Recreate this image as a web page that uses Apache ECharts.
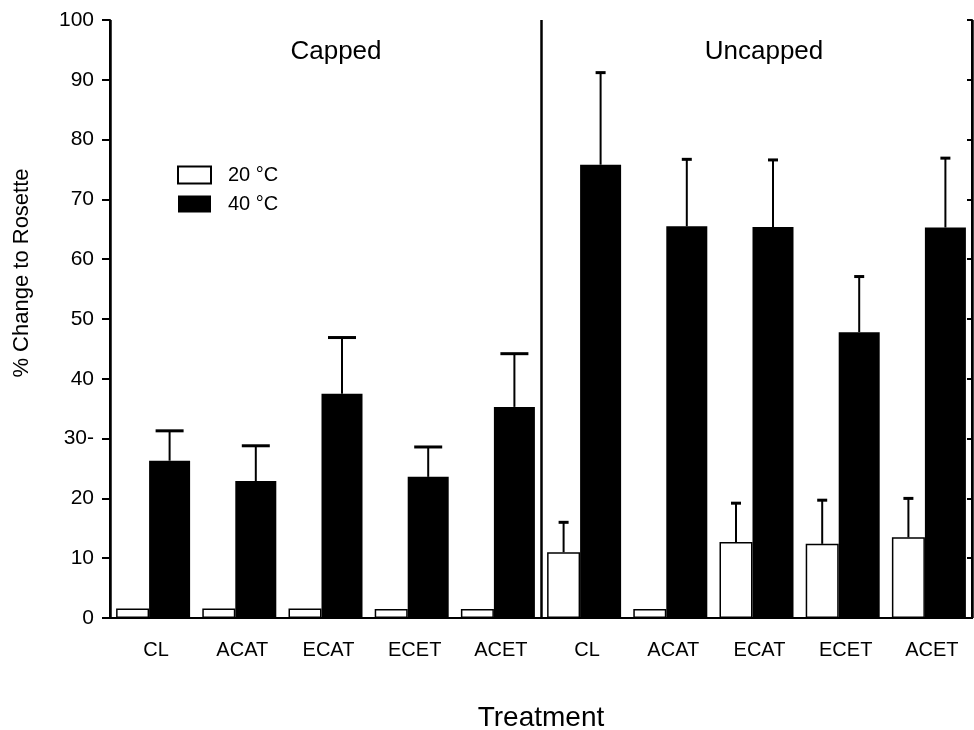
<!DOCTYPE html>
<html>
<head>
<meta charset="utf-8">
<script src="https://cdn.jsdelivr.net/npm/echarts@6/dist/echarts.min.js"></script>
<style>
  html, body { margin: 0; padding: 0; background: #fff; }
  #chart { width: 974px; height: 730px; }
</style>
</head>
<body>
<div id="chart"></div>
<script>
// data
const groups = ["Capped", "Uncapped"];
const treatments = ["CL", "ACAT", "ECAT", "ECET", "ACET"];
const yTicks = [0, 10, 20, 30, 40, 50, 60, 70, 80, 90, 100];
const mean20 = [1.6, 1.6, 1.6, 1.5, 1.5, 11.0, 1.5, 12.7, 12.4, 13.5];
const err20 = [0, 0, 0, 0, 0, 5.0, 0, 6.5, 7.3, 6.5];
const mean40 = [26.3, 22.9, 37.5, 23.6, 35.3, 75.8, 65.5, 65.4, 47.8, 65.3];
const err40 = [5.0, 5.9, 9.4, 5.0, 8.9, 15.4, 11.2, 11.2, 9.3, 11.6];

const categories = [];
groups.forEach(g => treatments.forEach(t => categories.push(g + "|" + t)));

const font = "Liberation Sans";
const barW20 = 33, barW40 = 41;

function errData(mean, err) {
  const out = [];
  mean.forEach((m, i) => { if (err[i] > 0) out.push([i, m, err[i]]); });
  return out;
}

// offset of each bar centre from the category centre
const half = (barW20 + barW40) / 2;
const off20 = -half + barW20 / 2;
const off40 = -half + barW20 + barW40 / 2;

function errSeries(name, mean, err, off) {
  return {
    type: "custom",
    name: name + " err",
    z: 5,
    data: errData(mean, err),
    renderItem(params, api) {
      const i = api.value(0);
      const p0 = api.coord([i, api.value(1)]);
      const p1 = api.coord([i, api.value(1) + api.value(2)]);
      const x = p0[0] + off;
      const cw = i < 5 ? 28 : 10;
      return {
        type: "group",
        children: [
          { type: "line", shape: { x1: x, y1: p0[1], x2: x, y2: p1[1] }, style: { stroke: "#000", lineWidth: 2 } },
          { type: "line", shape: { x1: x - cw / 2, y1: p1[1], x2: x + cw / 2, y2: p1[1] }, style: { stroke: "#000", lineWidth: 3 } }
        ]
      };
    }
  };
}

const chart = echarts.init(document.getElementById("chart"));
chart.setOption({
  animation: false,
  backgroundColor: "#fff",
  textStyle: { fontFamily: font, color: "#000" },
  grid: { left: 110, right: 2, top: 20, bottom: 112, outerBoundsMode: "none", containLabel: false },
  legend: {
    data: ["20 °C", "40 °C"],
    orient: "vertical",
    left: 172,
    top: 160,
    itemWidth: 33,
    itemHeight: 17,
    itemGap: 9,
    icon: "rect",
    textStyle: { fontFamily: font, fontSize: 20, color: "#000", padding: [0, 0, 0, 12] }
  },
  graphic: [
    { type: "text", x: 336, y: 52, style: { text: "Capped", fontFamily: font, fontSize: 26, fill: "#000", align: "center", verticalAlign: "middle" } },
    { type: "text", x: 764, y: 52, style: { text: "Uncapped", fontFamily: font, fontSize: 26, fill: "#000", align: "center", verticalAlign: "middle" } },
    { type: "text", x: 22, y: 273, rotation: Math.PI / 2, style: { text: "% Change to Rosette", fontFamily: font, fontSize: 22, fill: "#000", align: "center", verticalAlign: "middle" } }
  ],
  xAxis: [
    {
      type: "category",
      data: categories,
      position: "bottom",
      name: "Treatment",
      nameLocation: "middle",
      nameGap: 86,
      nameTextStyle: { fontFamily: font, fontSize: 28, color: "#000" },
      axisLine: { lineStyle: { color: "#000", width: 2 } },
      axisTick: { alignWithLabel: true, length: 8, lineStyle: { color: "#000", width: 2 } },
      axisLabel: { formatter: v => v.split("|")[1], fontFamily: font, fontSize: 20, color: "#000", margin: 22, padding: [0, 0, 0, 6] },
      splitLine: { show: false }
    },
    {
      type: "category",
      data: categories,
      position: "top",
      axisLine: { lineStyle: { color: "#000", width: 2 } },
      axisTick: { alignWithLabel: true, length: 7, lineStyle: { color: "#000", width: 2 } },
      axisLabel: { show: false },
      splitLine: {
        show: true,
        interval: (i) => i === 0 || i === treatments.length || i === categories.length,
        lineStyle: { color: "#000", width: 2.5 }
      }
    }
  ],
  yAxis: [
    {
      type: "value",
      min: yTicks[0],
      max: yTicks[yTicks.length - 1],
      interval: 10,
      axisLine: { show: true, lineStyle: { color: "#000", width: 2 } },
      axisTick: { show: true, length: 8, lineStyle: { color: "#000", width: 2 } },
      axisLabel: { formatter: v => (v === 30 ? "30-" : String(v)), fontFamily: font, fontSize: 21, color: "#000", margin: 16 },
      splitLine: { show: false }
    },
    {
      type: "value",
      position: "right",
      min: yTicks[0],
      max: yTicks[yTicks.length - 1],
      interval: 10,
      axisLine: { show: true, lineStyle: { color: "#000", width: 2 } },
      axisTick: { show: true, inside: true, length: 5, lineStyle: { color: "#000", width: 2 } },
      axisLabel: { show: false },
      splitLine: { show: false }
    }
  ],
  series: [
    {
      name: "20 °C",
      type: "bar",
      barWidth: barW20,
      barGap: "0%",
      data: mean20,
      itemStyle: { color: "#fff", borderColor: "#000", borderWidth: 1.5 }
    },
    {
      name: "40 °C",
      type: "bar",
      barWidth: barW40,
      barGap: "0%",
      data: mean40,
      itemStyle: { color: "#000" }
    },
    errSeries("20 °C", mean20, err20, off20),
    errSeries("40 °C", mean40, err40, off40)
  ]
});
</script>
</body>
</html>
